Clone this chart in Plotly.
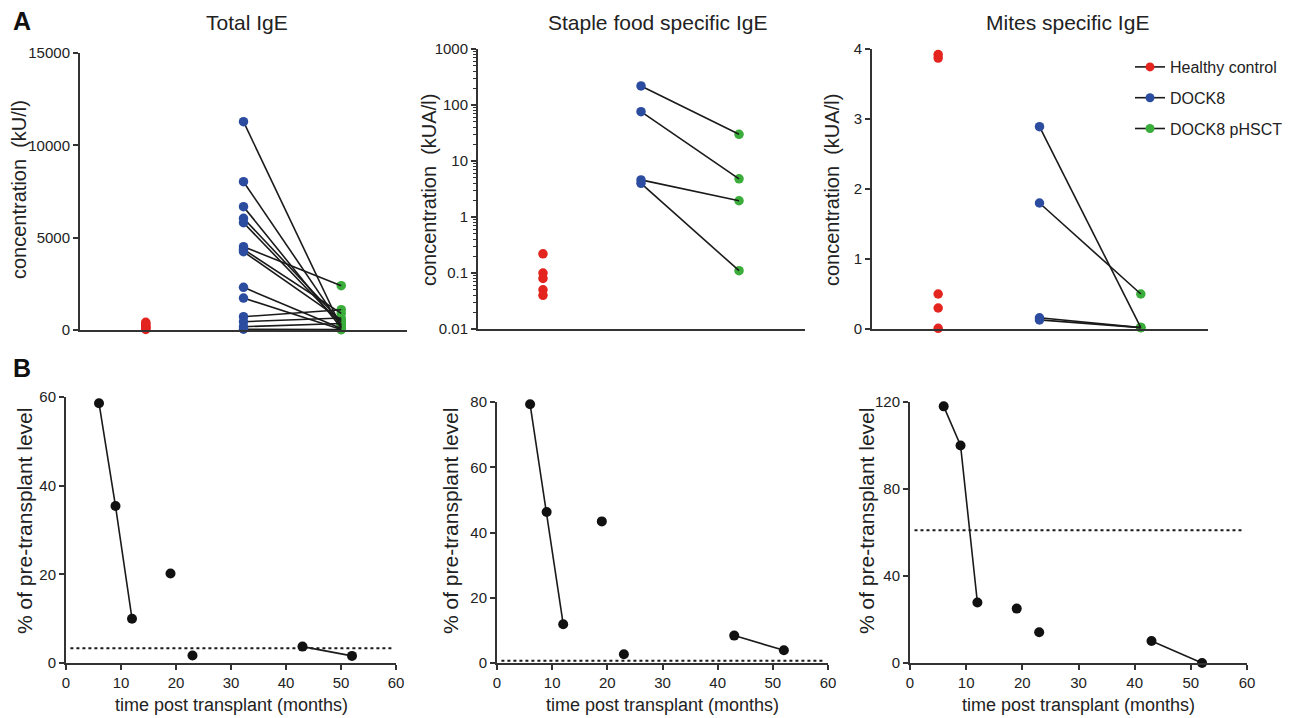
import plotly.graph_objects as go

W, H = 1290, 718
OFF = 8  # page body margin in the browser
FONT = "Liberation Sans"
TXT = "#222222"
AX = "#333333"
RED, BLUE, GREEN = "#e3241f", "#2b4c9f", "#3aad3a"

# ---------------- data ----------------
groups = ["Healthy control", "DOCK8", "DOCK8 pHSCT"]
group_pos = [1, 2, 3]

# Total IgE (kU/l)
total_healthy = [30, 70, 130, 190, 260, 340, 420]
total_dock8 = [11280, 8030, 6680, 6050, 5810, 4510, 4370, 4240, 2310, 1730, 720, 450, 180, 40]
total_phsct = [150, 250, 120, 450, 300, 2400, 900, 550, 80, 30, 1100, 650, 350, 20]

# Staple food specific IgE (kUA/l)
food_healthy = [0.22, 0.10, 0.08, 0.05, 0.04]
food_dock8 = [219, 76, 4.6, 4.0]
food_phsct = [30, 4.8, 1.95, 0.11]

# Mites specific IgE (kUA/l)
mite_healthy = [3.92, 3.87, 0.50, 0.30, 0.01]
mite_dock8 = [2.89, 1.80, 0.16, 0.13]
mite_phsct = [0.02, 0.50, 0.02, 0.02]

# Panel B: % of pre-transplant level vs months post transplant
months = [6, 9, 12, 19, 23, 43, 52]
patient = ["p1", "p1", "p1", "p2", "p3", "p4", "p4"]
pct_total = [58.6, 35.4, 10.0, 20.2, 1.7, 3.7, 1.6]
pct_food = [79.3, 46.3, 11.9, 43.4, 2.7, 8.4, 3.9]
pct_mite = [118, 100, 27.8, 25, 14.1, 10.1, 0]
threshold = [3.3, 0.7, 61]
threshold_span = [0.8, 59.3]

# ---------------- layout helpers ----------------
def xp(px):
    return (px - OFF) / W

def yp(py):
    return 1 - (py - OFF) / H

fig = go.Figure()

# panel geometry in pixels: (left, right, top, bottom)
boxes = {
    1: (80, 407, 53, 330),
    2: (478, 805, 49, 329),
    3: (872, 1208, 49, 329),
    4: (66, 396, 397, 663),
    5: (497, 828, 402, 663),
    6: (910, 1247, 402, 663),
}

def axname(i, kind):
    return kind + ("" if i == 1 else str(i))

tickfont = dict(family=FONT, size=15, color=TXT)
lay = {}
for i, (l, r, t, b) in boxes.items():
    lay[axname(i, "xaxis")] = dict(domain=[xp(l), xp(r)], anchor=axname(i, "y"),
                                   showline=True, linecolor=AX, linewidth=2,
                                   showgrid=False, zeroline=False, tickfont=tickfont,
                                   automargin=False)
    lay[axname(i, "yaxis")] = dict(domain=[yp(b), yp(t)], anchor=axname(i, "x"),
                                   showline=True, linecolor=AX, linewidth=2,
                                   showgrid=False, zeroline=False, tickfont=tickfont,
                                   ticks="outside", ticklen=5, tickwidth=1.5, tickcolor=AX,
                                   automargin=False)

# A panels x ranges (categorical positions)
lay["xaxis"].update(range=[0.327, 3.673], showticklabels=False, ticks="")
lay["xaxis2"].update(range=[0.337, 3.673], showticklabels=False, ticks="")
lay["xaxis3"].update(range=[0.347, 3.663], showticklabels=False, ticks="")
lay["yaxis"].update(range=[0, 15000], tickvals=[0, 5000, 10000, 15000],
                    ticktext=["0", "5000", "10000", "15000"])
minor_vals = [m * 10 ** e for e in range(-2, 3) for m in range(2, 10)]
lay["yaxis2"].update(type="log", range=[-2, 3],
                     tickvals=[0.01, 0.1, 1, 10, 100, 1000],
                     ticktext=["0.01", "0.1", "1", "10", "100", "1000"],
                     minor=dict(tickvals=minor_vals, ticks="outside", ticklen=3,
                                tickwidth=1, tickcolor=AX))
lay["yaxis3"].update(range=[0, 4], tickvals=[0, 1, 2, 3, 4])

for i in (4, 5, 6):
    lay[axname(i, "xaxis")].update(range=[0, 60], tickvals=[0, 10, 20, 30, 40, 50, 60],
                                   ticks="outside", ticklen=5, tickwidth=1.5, tickcolor=AX)
lay["yaxis4"].update(range=[0, 60], tickvals=[0, 20, 40, 60])
lay["yaxis5"].update(range=[0, 80], tickvals=[0, 20, 40, 60, 80])
lay["yaxis6"].update(range=[0, 120], tickvals=[0, 40, 80, 120])

# ---------------- traces: panel A ----------------
def paired(ax_i, healthy, dock8, phsct):
    xa, ya = axname(ax_i, "x"), axname(ax_i, "y")
    lx, ly = [], []
    for a, b in zip(dock8, phsct):
        lx += [group_pos[1], group_pos[2], None]
        ly += [a, b, None]
    fig.add_trace(go.Scatter(x=[group_pos[2]] * len(phsct), y=phsct, mode="markers",
                             marker=dict(color=GREEN, size=9.5), xaxis=xa, yaxis=ya,
                             showlegend=False, cliponaxis=False))
    fig.add_trace(go.Scatter(x=lx, y=ly, mode="lines", line=dict(color="#1a1a1a", width=1.6),
                             xaxis=xa, yaxis=ya, showlegend=False, cliponaxis=False))
    fig.add_trace(go.Scatter(x=[group_pos[1]] * len(dock8), y=dock8, mode="markers",
                             marker=dict(color=BLUE, size=9.5), xaxis=xa, yaxis=ya,
                             showlegend=False, cliponaxis=False))
    fig.add_trace(go.Scatter(x=[group_pos[0]] * len(healthy), y=healthy, mode="markers",
                             marker=dict(color=RED, size=9.5), xaxis=xa, yaxis=ya,
                             showlegend=False, cliponaxis=False))

paired(1, total_healthy, total_dock8, total_phsct)
paired(2, food_healthy, food_dock8, food_phsct)
paired(3, mite_healthy, mite_dock8, mite_phsct)

# legend entries
for name, col in zip(groups, [RED, BLUE, GREEN]):
    fig.add_trace(go.Scatter(x=[None], y=[None], mode="lines+markers", name=name,
                             legendgroup=name,
                             line=dict(color="#1a1a1a", width=1.6),
                             marker=dict(color=col, size=9), xaxis="x3", yaxis="y3"))

# ---------------- traces: panel B ----------------
def timecourse(ax_i, vals, thr):
    xa, ya = axname(ax_i, "x"), axname(ax_i, "y")
    fig.add_trace(go.Scatter(x=threshold_span, y=[thr, thr], mode="lines",
                             line=dict(color="#1a1a1a", width=2, dash="dot"),
                             xaxis=xa, yaxis=ya, showlegend=False))
    for p in dict.fromkeys(patient):
        xs = [m for m, q in zip(months, patient) if q == p]
        ys = [v for v, q in zip(vals, patient) if q == p]
        fig.add_trace(go.Scatter(x=xs, y=ys, mode="lines+markers",
                                 line=dict(color="#1a1a1a", width=1.6),
                                 marker=dict(color="#111111", size=10),
                                 xaxis=xa, yaxis=ya, showlegend=False, cliponaxis=False))

timecourse(4, pct_total, threshold[0])
timecourse(5, pct_food, threshold[1])
timecourse(6, pct_mite, threshold[2])

# ---------------- annotations ----------------
ann = []
def text(x, y, s, size, angle=0, bold=False):
    ann.append(dict(x=xp(x), y=yp(y), xref="paper", yref="paper", text=("<b>%s</b>" % s) if bold else s,
                    showarrow=False, textangle=angle, xanchor="center", yanchor="middle",
                    font=dict(family=FONT, size=size, color="#111111" if bold else TXT)))

text(22, 21, "A", 25, bold=True)
text(22, 368, "B", 25, bold=True)
text(247, 22, "Total IgE", 21)
text(657, 22, "Staple food specific IgE", 21)
text(1067, 22, "Mites specific IgE", 21)
text(19, 190, "concentration  (kU/l)", 20, angle=-90)
text(429, 190, "concentration  (kUA/l)", 20, angle=-90)
text(832, 190, "concentration  (kUA/l)", 20, angle=-90)
for cx in (24, 450, 866):
    text(cx, 521, "% of pre-transplant level", 21, angle=-90)
text(231, 705, "time post transplant (months)", 18)
text(662, 705, "time post transplant (months)", 18)
text(1078, 705, "time post transplant (months)", 18)

fig.update_layout(
    width=W, height=H, margin=dict(l=0, r=0, t=0, b=0, pad=0, autoexpand=False),
    paper_bgcolor="white", plot_bgcolor="white",
    annotations=ann,
    legend=dict(x=xp(1130), y=yp(50), xref="container", yref="container",
                xanchor="left", yanchor="top",
                font=dict(family=FONT, size=16, color=TXT), itemwidth=30,
                tracegroupgap=7, bgcolor="rgba(0,0,0,0)"),
    **lay,
)

fig.write_html("out.html")
